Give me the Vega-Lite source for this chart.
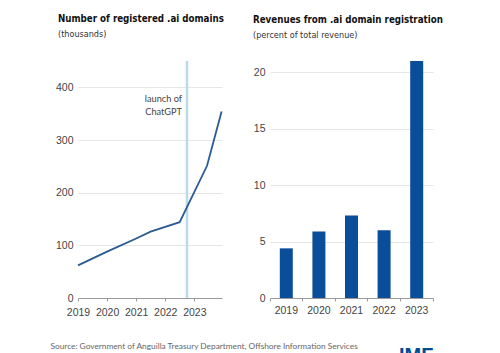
{
  "$schema": "https://vega.github.io/schema/vega-lite/v6.json",
  "background": "white",
  "padding": {"left": 50, "top": 14, "right": 5, "bottom": 0},
  "bounds": "flush",
  "spacing": 48,
  "config": {
    "view": {"stroke": null},
    "font": "Lato",
    "title": {"font": "'DejaVu Sans Condensed', Lato", "fontSize": 9.7, "fontWeight": "bold", "color": "#111111", "subtitleFont": "'DejaVu Sans Condensed', Lato", "subtitleFontSize": 9, "subtitleColor": "#333333", "subtitlePadding": 6, "anchor": "start", "frame": "group", "offset": 21},
    "axis": {"labelFont": "Liberation Sans", "labelFontSize": 10.5, "labelColor": "#444444", "domainColor": "#9a9a9a", "tickColor": "#9a9a9a", "gridColor": "#e6e6e6", "titleFont": "Lato"}
  },
  "datasets": {
    "domains": [
      {"date": "2019-01-01T00:00", "domains_k": 62},
      {"date": "2020-01-01T00:00", "domains_k": 88},
      {"date": "2021-01-01T00:00", "domains_k": 113},
      {"date": "2021-07-01T00:00", "domains_k": 126},
      {"date": "2022-07-01T00:00", "domains_k": 144},
      {"date": "2023-06-10T00:00", "domains_k": 251},
      {"date": "2023-12-10T00:00", "domains_k": 354}
    ],
    "events": [
      {"date": "2022-10-01T00:00", "label": "launch of\nChatGPT", "label_at": 373}
    ],
    "revenue": [
      {"year": "2019", "percent": 4.4},
      {"year": "2020", "percent": 5.9},
      {"year": "2021", "percent": 7.3},
      {"year": "2022", "percent": 6.0},
      {"year": "2023", "percent": 21.0}
    ]
  },
  "hconcat": [
    {
      "width": 144,
      "height": 237,
      "title": {"text": "Number of registered .ai domains", "subtitle": "(thousands)", "dx": -20},
      "layer": [
        {
          "data": {"name": "events"},
          "mark": {"type": "rule", "color": "#b7dbe9", "strokeWidth": 2.5},
          "encoding": {
            "x": {"field": "date", "type": "temporal", "scale": {"domain": [{"year": 2019, "month": 1, "date": 1}, {"year": 2023, "month": 12, "date": 15}]}}
          }
        },
        {
          "data": {"name": "events"},
          "mark": {"type": "text", "align": "right", "baseline": "alphabetic", "dx": -5, "lineBreak": "\n", "lineHeight": 13, "fontSize": 9.2, "font": "Lato", "color": "#444444"},
          "encoding": {
            "x": {"field": "date", "type": "temporal"},
            "y": {"field": "label_at", "type": "quantitative"},
            "text": {"field": "label"}
          }
        },
        {
          "data": {"name": "domains"},
          "mark": {"type": "line", "color": "#2b5b92", "strokeWidth": 1.8},
          "encoding": {
            "x": {
              "field": "date", "type": "temporal",
              "scale": {"domain": [{"year": 2019, "month": 1, "date": 1}, {"year": 2023, "month": 12, "date": 15}]},
              "axis": {
                "format": "%Y", "tickCount": {"interval": "year", "step": 1}, "grid": false, "labelAngle": 0,
                "tickSize": 3, "labelPadding": 6, "labelFlush": false,
                "title": "Source: Government of Anguilla Treasury Department, Offshore Information Services",
                "titleAnchor": "start", "titleAlign": "left", "titleBaseline": "alphabetic",
                "titleX": -28, "titleY": 50, "titleFontSize": 8.3, "titleFontWeight": "normal", "titleColor": "#666666"
              }
            },
            "y": {
              "field": "domains_k", "type": "quantitative",
              "scale": {"domain": [0, 420]},
              "axis": {"values": [0, 100, 200, 300, 400], "title": null, "domain": false, "ticks": false, "labelPadding": 5}
            }
          }
        }
      ]
    },
    {
      "width": 163,
      "height": 237,
      "title": {"text": "Revenues from .ai domain registration", "subtitle": "(percent of total revenue)", "dx": -17},
      "data": {"name": "revenue"},
      "mark": {"type": "bar", "color": "#0a4d98", "width": 13},
      "encoding": {
        "x": {
          "field": "year", "type": "ordinal",
          "scale": {"paddingInner": 0, "paddingOuter": 0},
          "axis": {
            "labelAngle": 0, "bandPosition": 1, "tickExtra": true, "tickSize": 3, "labelPadding": 4,
            "title": "IMF", "titleAnchor": "end", "titleAlign": "right", "titleBaseline": "alphabetic",
            "titleX": 163, "titleY": 63, "titleFontSize": 20, "titleFontWeight": "bold", "titleColor": "#004c97", "titleFont": "Liberation Sans"
          }
        },
        "y": {
          "field": "percent", "type": "quantitative",
          "scale": {"domain": [0, 21]},
          "axis": {"values": [0, 5, 10, 15, 20], "title": null, "domain": false, "ticks": false, "labelPadding": 5}
        }
      }
    }
  ]
}
